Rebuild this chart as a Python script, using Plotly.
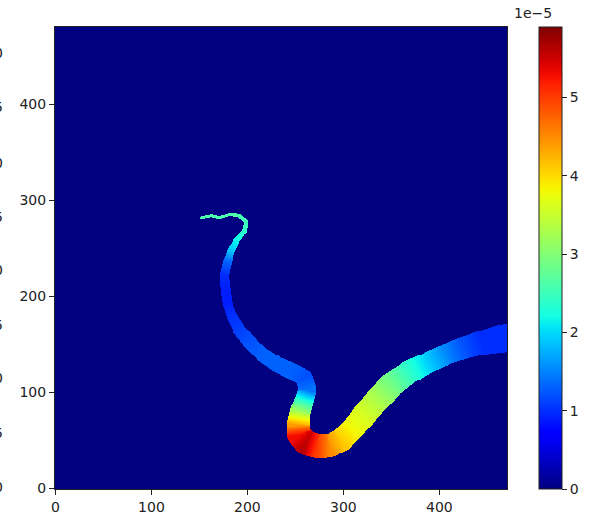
import numpy as np
import plotly.graph_objects as go

# ---- data (data coordinates) ----
# river centre-line (x, y), local width, and value (in units of 1e-5)
center_x = [152.0, 162.4, 170.8, 181.2, 191.6, 198.9, 196.9, 189.6, 183.3, 179.2, 176.0,
            177.1, 179.2, 183.3, 191.6, 202.0, 214.6, 230.2, 245.8, 259.4, 262.5, 259.4,
            255.2, 253.1, 254.2, 261.5, 272.9, 285.4, 297.9, 309.4, 321.9, 335.4, 350.0,
            368.8, 389.6, 408.3, 426.0, 443.8, 462.5, 469.0]
center_y = [281.8, 283.9, 281.8, 285.0, 283.9, 277.6, 268.2, 258.9, 248.4, 235.9, 222.4,
            206.8, 193.2, 180.7, 165.1, 152.6, 140.1, 129.7, 122.4, 115.1, 102.6, 92.2,
            79.7, 66.1, 55.6, 47.3, 44.1, 44.1, 50.4, 61.9, 76.6, 92.2, 107.8, 121.4,
            131.8, 140.1, 146.4, 151.6, 155.7, 156.7]
widths = [2, 2, 2, 2, 3, 3, 4, 5, 7, 8, 8, 9, 9, 10, 12, 13, 14, 15, 16, 17, 18, 19,
          21, 23, 24, 25, 24, 23, 23, 23, 24, 25, 25, 23, 21, 21, 22, 24, 28, 28]
values_e5 = [2.6, 2.6, 2.6, 2.6, 2.6, 2.5, 2.4, 2.2, 1.9, 1.3, 1.0, 0.9, 0.9, 1.0, 1.1,
             1.2, 1.3, 1.3, 1.3, 1.2, 1.4, 2.3, 3.2, 4.4, 5.3, 5.6, 5.0, 4.5, 4.1, 3.8,
             3.6, 3.3, 2.9, 2.4, 1.9, 1.5, 1.2, 1.0, 1.0, 1.0]
scale = 1e-5
n_cols, n_rows = 471, 481
x_ticks = [0, 100, 200, 300, 400]
y_ticks = [0, 100, 200, 300, 400]
cbar_ticks = [0, 1, 2, 3, 4, 5]
cbar_max_e5 = 5.9
edge_labels = ["0", "5", "0", "5", "0", "5", "0", "5", "0"]
edge_label_py = [53, 107, 163, 217, 270, 325, 378, 433, 487]

# ---- rasterise the river into the grid ----
xs = np.arange(n_cols)
ys = np.arange(n_rows)
GX, GY = np.meshgrid(xs, ys)
best_d = np.full(GX.shape, np.inf)
z = np.zeros(GX.shape)
cx = np.array(center_x); cy = np.array(center_y)
w = np.array(widths, float); v = np.array(values_e5) * scale
for i in range(len(cx) - 1):
    ax_, ay_ = cx[i], cy[i]
    bx_, by_ = cx[i + 1], cy[i + 1]
    dx, dy = bx_ - ax_, by_ - ay_
    L2 = dx * dx + dy * dy
    t = np.clip(((GX - ax_) * dx + (GY - ay_) * dy) / L2, 0, 1)
    px = ax_ + t * dx; py = ay_ + t * dy
    d = np.hypot(GX - px, GY - py)
    wid = w[i] + t * (w[i + 1] - w[i])
    val = v[i] + t * (v[i + 1] - v[i])
    inside = (d <= wid / 2 + 0.5) & (d < best_d)
    z[inside] = val[inside]
    best_d[inside] = d[inside]

# matplotlib 'jet'
def jet(s):
    r = np.interp(s, [0, 0.35, 0.66, 0.89, 1], [0, 0, 1, 1, 0.5])
    g = np.interp(s, [0, 0.125, 0.375, 0.64, 0.91, 1], [0, 0, 1, 1, 0, 0])
    b = np.interp(s, [0, 0.11, 0.34, 0.65, 1], [0.5, 1, 1, 0, 0])
    return f"rgb({int(round(r*255))},{int(round(g*255))},{int(round(b*255))})"

jet_scale = [[s, jet(s)] for s in np.linspace(0, 1, 41)]

fig = go.Figure(go.Heatmap(
    z=z, x=xs, y=ys, colorscale=jet_scale, zmin=0, zmax=cbar_max_e5 * scale,
    hoverinfo="skip",
    colorbar=dict(
        x=(539 - 55) / 452, xanchor="left", xpad=0, ypad=0,
        y=0.5, yanchor="middle", len=1, lenmode="fraction",
        thickness=23, outlinewidth=1, outlinecolor="#222",
        tickvals=[t * scale for t in cbar_ticks], ticktext=[str(t) for t in cbar_ticks],
        ticks="outside", ticklen=5, tickcolor="#222",
        tickfont=dict(family="DejaVu Sans", size=14, color="#222"),
    ),
))

axis_common = dict(showgrid=False, zeroline=False, showline=True, mirror=True,
                   linecolor="#222", linewidth=1, ticks="outside", ticklen=5,
                   tickcolor="#222", tickfont=dict(family="DejaVu Sans", size=14, color="#222"))
fig.update_xaxes(range=[-0.5, n_cols - 0.5], tickvals=x_ticks, **axis_common)
fig.update_yaxes(range=[-0.5, n_rows - 0.5], tickvals=y_ticks, **axis_common)

annotations = [dict(text="1e\u22125", xref="paper", yref="paper",
                    x=(533 - 55) / 452, y=(489 - 13) / 462, showarrow=False,
                    xanchor="center", yanchor="middle",
                    font=dict(family="DejaVu Sans", size=14, color="#222"))]
for lab, py in zip(edge_labels, edge_label_py):
    annotations.append(dict(text=lab, xref="paper", yref="paper",
                            x=(5 - 55) / 452, y=(489 - py) / 462, showarrow=False,
                            xanchor="right", yanchor="middle",
                            font=dict(family="DejaVu Sans", size=14, color="#222")))

fig.update_layout(
    width=597, height=519,
    margin=dict(l=55, r=90, t=27, b=30, autoexpand=False),
    plot_bgcolor="white", paper_bgcolor="white",
    annotations=annotations,
)
fig.write_html("out.html", config={"displayModeBar": False},
               post_script="document.body.style.margin='0';document.body.style.overflow='hidden';")
